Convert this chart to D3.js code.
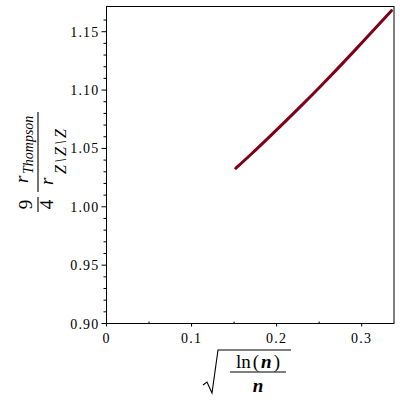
<!DOCTYPE html>
<html lang="en">
  <head>
    <meta charset="utf-8" />
    <script src="https://d3js.org/d3.v7.min.js"></script>
    <style>
      body { margin: 0; background: #fff; }
      text { font-family: 'Liberation Serif', 'DejaVu Serif', serif; fill: #000; }
      .tick-label { font-size: 14px; letter-spacing: 1.2px; }
    </style>
  </head>
  <body>
    <svg id="chart" width="400" height="400"></svg>
    <script>
      // values: sqrt(ln(n)/n) vs (9/4) r_Thompson / r_Z\Z\Z
      const xVals = [0.152, 0.17, 0.19, 0.21, 0.23, 0.25, 0.27, 0.29, 0.31, 0.335];
      const yVals = [1.033, 1.045, 1.0588, 1.0729, 1.0873, 1.102, 1.1171, 1.1325, 1.1482, 1.168];
      const xTicks = [0, 0.1, 0.2, 0.3];
      const xTickLabels = ['0', '0.1', '0.2', '0.3'];
      const yTicks = [0.9, 0.95, 1.0, 1.05, 1.1, 1.15];
      const yTickLabels = ['0.90', '0.95', '1.00', '1.05', '1.10', '1.15'];

      const svg = d3.select('#chart');

      // plot box
      const boxL = 106.5, boxR = 394, boxT = 6.5, boxB = 323.5;

      const x = d3.scaleLinear().domain([0, 0.338]).range([boxL, boxR]);
      const y = d3.scaleLinear().domain([0.9, 1.1716]).range([boxB, boxT]);

      // frame
      svg.append('rect')
        .attr('x', boxL).attr('y', boxT)
        .attr('width', boxR - boxL).attr('height', boxB - boxT)
        .attr('fill', 'none').attr('stroke', '#000').attr('stroke-width', 1);

      // y axis ticks
      const yMinor = d3.range(0.9, 1.17, 0.01).map(v => +v.toFixed(2));
      svg.append('g').selectAll('line')
        .data(yMinor)
        .enter()
        .append('line')
        .attr('x1', boxL).attr('x2', d => yTicks.some(t => Math.abs(t - d) < 1e-6) ? boxL - 5 : boxL - 3)
        .attr('y1', d => y(d)).attr('y2', d => y(d))
        .attr('stroke', '#000');

      svg.append('g').selectAll('text')
        .data(yTicks)
        .enter()
        .append('text')
        .attr('class', 'tick-label')
        .attr('x', boxL - 7)
        .attr('y', d => y(d) + 5)
        .attr('text-anchor', 'end')
        .text((d, i) => yTickLabels[i]);

      // x axis ticks
      const xMinor = d3.range(0.05, 0.34, 0.1).map(v => +v.toFixed(2));
      svg.append('g').selectAll('line')
        .data(xTicks)
        .enter()
        .append('line')
        .attr('x1', d => x(d)).attr('x2', d => x(d))
        .attr('y1', boxB).attr('y2', boxB + 3)
        .attr('stroke', '#000');
      svg.append('g').selectAll('line')
        .data(xMinor)
        .enter()
        .append('line')
        .attr('x1', d => x(d)).attr('x2', d => x(d))
        .attr('y1', boxB - 2).attr('y2', boxB)
        .attr('stroke', '#000');

      svg.append('g').selectAll('text')
        .data(xTicks)
        .enter()
        .append('text')
        .attr('class', 'tick-label')
        .attr('x', d => x(d))
        .attr('y', boxB + 19)
        .attr('text-anchor', 'middle')
        .text((d, i) => xTickLabels[i]);

      // the curve
      const pts = xVals.map((v, i) => [v, yVals[i]]);
      svg.append('path')
        .datum(pts)
        .attr('d', d3.line().x(d => x(d[0])).y(d => y(d[1])).curve(d3.curveMonotoneX))
        .attr('fill', 'none')
        .attr('stroke', '#800018')
        .attr('stroke-width', 3)
        .attr('stroke-linecap', 'round');

      // x label: sqrt( ln(n) / n )
      const xl = svg.append('g');
      xl.append('path')
        .attr('d', 'M203,385 L207,382 L212,393 L218,350 L291,350')
        .attr('fill', 'none').attr('stroke', '#000').attr('stroke-width', 1.1);
      xl.append('line')
        .attr('x1', 230).attr('x2', 286).attr('y1', 372).attr('y2', 372)
        .attr('stroke', '#000').attr('stroke-width', 1.1);
      const ln = xl.append('text')
        .attr('x', 258).attr('y', 368)
        .attr('text-anchor', 'middle')
        .style('font-size', '19px');
      ln.append('tspan').text('ln');
      ln.append('tspan').attr('dx', 2).text('(');
      ln.append('tspan').attr('dx', 2).style('font-style', 'italic').style('font-weight', 'bold').text('n');
      ln.append('tspan').attr('dx', 2).text(')');
      xl.append('text')
        .attr('x', 258).attr('y', 392)
        .attr('text-anchor', 'middle')
        .style('font-size', '19px').style('font-style', 'italic').style('font-weight', 'bold')
        .text('n');

      // y label: 9/4 * r_Thompson / r_Z\Z\Z (rotated)
      const yl = svg.append('g').attr('transform', 'translate(38,160) rotate(-90)');
      yl.append('line')
        .attr('x1', -52).attr('x2', -37).attr('y1', 0).attr('y2', 0)
        .attr('stroke', '#000').attr('stroke-width', 1.1);
      yl.append('text')
        .attr('x', -44.5).attr('y', -6)
        .attr('text-anchor', 'middle').style('font-size', '19px').text('9');
      yl.append('text')
        .attr('x', -44.5).attr('y', 15)
        .attr('text-anchor', 'middle').style('font-size', '19px').text('4');
      yl.append('line')
        .attr('x1', -32).attr('x2', 48).attr('y1', 0).attr('y2', 0)
        .attr('stroke', '#000').attr('stroke-width', 1.1);
      yl.append('text')
        .attr('x', -23).attr('y', -10)
        .style('font-size', '19px').style('font-style', 'italic').text('r');
      yl.append('text')
        .attr('x', -14).attr('y', -5)
        .style('font-size', '14px').style('font-style', 'italic').text('Thompson');
      yl.append('text')
        .attr('x', -25).attr('y', 15)
        .style('font-size', '19px').style('font-style', 'italic').text('r');
      yl.append('text')
        .attr('x', -14).attr('y', 28)
        .attr('textLength', 45).attr('lengthAdjust', 'spacing')
        .style('font-size', '16px').style('font-style', 'italic').text('Z\\Z\\Z');
    </script>
  </body>
</html>
